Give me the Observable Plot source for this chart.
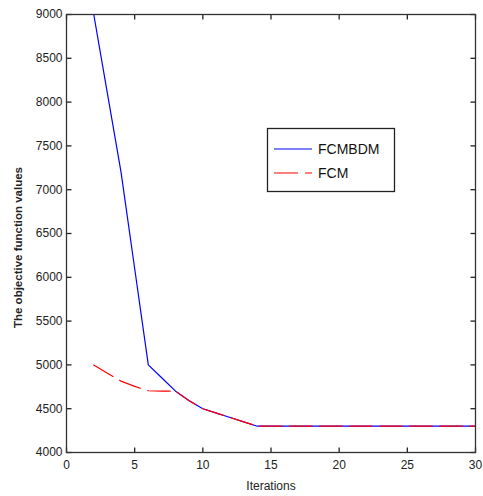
<!DOCTYPE html>
<html>
<head>
<meta charset="utf-8">
<script src="https://cdn.jsdelivr.net/npm/d3@7"></script>
<script src="https://cdn.jsdelivr.net/npm/@observablehq/plot@0.6"></script>
<style>
  html, body { margin: 0; padding: 0; background: #fff; }
  #chart { width: 483px; height: 496px; }
</style>
</head>
<body>
<div id="chart"></div>
<script>
const iterations = [2,3,4,5,6,7,8,9,10,11,12,13,14,15,16,17,18,19,20,21,22,23,24,25,26,27,28,29,30];
const fcmbdm = [9000,8100,7200,6100,5000,4850,4700,4590,4500,4450,4400,4350,4300,4300,4300,4300,4300,4300,4300,4300,4300,4300,4300,4300,4300,4300,4300,4300,4300];
const fcm = [5000,4905,4815,4755,4705,4700,4700,4590,4500,4450,4400,4350,4300,4300,4300,4300,4300,4300,4300,4300,4300,4300,4300,4300,4300,4300,4300,4300,4300];
const seriesNames = ["FCMBDM", "FCM"];
const xTicks = [0,5,10,15,20,25,30];
const yTicks = [4000,4500,5000,5500,6000,6500,7000,7500,8000,8500,9000];
const xLabel = "Iterations";
const yLabel = "The objective function values";

const blueData = iterations.map((x, i) => ({x, y: fcmbdm[i]}));
const redData = iterations.map((x, i) => ({x, y: fcm[i]}));

const axisColor = "#333";
const font = "Liberation Sans, Arial, sans-serif";

const W = 483, H = 496, mL = 66, mR = 8, mT = 14, mB = 44;
const xDomain = [0, 30], yDomain = [4000, 9000];
const innerW = W - mL - mR, innerH = H - mT - mB;
const tickLen = 5;
// tick length expressed in data units so ticks go through the library's scales
const dxTick = tickLen * (xDomain[1] - xDomain[0]) / innerW;
const dyTick = tickLen * (yDomain[1] - yDomain[0]) / innerH;
const tickStyle = {stroke: "#222", strokeWidth: 1.3};

const plot = Plot.plot({
  width: W,
  height: H,
  marginLeft: mL,
  marginRight: mR,
  marginTop: mT,
  marginBottom: mB,
  style: {fontFamily: font, fontSize: "12px", color: "#222", background: "#fff"},
  x: {domain: xDomain},
  y: {domain: yDomain},
  marks: [
    Plot.axisX(xTicks, {tickSize: 0, tickPadding: 8, label: null, fontSize: 12, tickFormat: d => String(d)}),
    Plot.axisY(yTicks, {tickSize: 0, tickPadding: 4, label: null, fontSize: 12, tickFormat: d => String(d)}),
    // inward ticks on all four sides (MATLAB style)
    Plot.link(xTicks, {x1: d => d, x2: d => d, y1: yDomain[0], y2: yDomain[0] + dyTick, ...tickStyle}),
    Plot.link(xTicks, {x1: d => d, x2: d => d, y1: yDomain[1], y2: yDomain[1] - dyTick, ...tickStyle}),
    Plot.link(yTicks, {y1: d => d, y2: d => d, x1: xDomain[0], x2: xDomain[0] + dxTick, ...tickStyle}),
    Plot.link(yTicks, {y1: d => d, y2: d => d, x1: xDomain[1], x2: xDomain[1] - dxTick, ...tickStyle}),
    Plot.line(blueData, {x: "x", y: "y", stroke: "#0000ff", strokeWidth: 1.2}),
    Plot.line(redData, {x: "x", y: "y", stroke: "#ff0000", strokeWidth: 1.2, strokeDasharray: "22.5,7.5"}),
    Plot.frame({stroke: axisColor, strokeWidth: 1.3}),
    Plot.text([xLabel], {frameAnchor: "bottom", dy: 37, fontSize: 12, fill: "#222"}),
    Plot.text([yLabel], {frameAnchor: "left", textAnchor: "middle", rotate: -90, dx: -48, dy: 14, fontSize: 11.5, fontWeight: "bold", fill: "#222"})
  ]
});

// Legend inside the plot area
const svg = d3.select(plot);
const lg = svg.append("g").attr("font-family", font).attr("font-size", 14).attr("fill", "#111").attr("text-anchor", "start");
lg.append("rect").attr("x", 267.5).attr("y", 128.5).attr("width", 127).attr("height", 63)
  .attr("fill", "#fff").attr("stroke", "#222").attr("stroke-width", 1.3);
const legendItems = [
  {name: seriesNames[0], color: "#0000ff", dash: null, y: 149},
  {name: seriesNames[1], color: "#ff0000", dash: "24,7", y: 173}
];
for (const it of legendItems) {
  lg.append("line").attr("x1", 274).attr("x2", 312).attr("y1", it.y).attr("y2", it.y)
    .attr("stroke", it.color).attr("stroke-width", 1.2).attr("stroke-dasharray", it.dash);
  lg.append("text").attr("x", 318).attr("y", it.y).attr("dy", "0.35em").attr("text-anchor", "start").text(it.name);
}

document.getElementById("chart").appendChild(plot);
</script>
</body>
</html>
